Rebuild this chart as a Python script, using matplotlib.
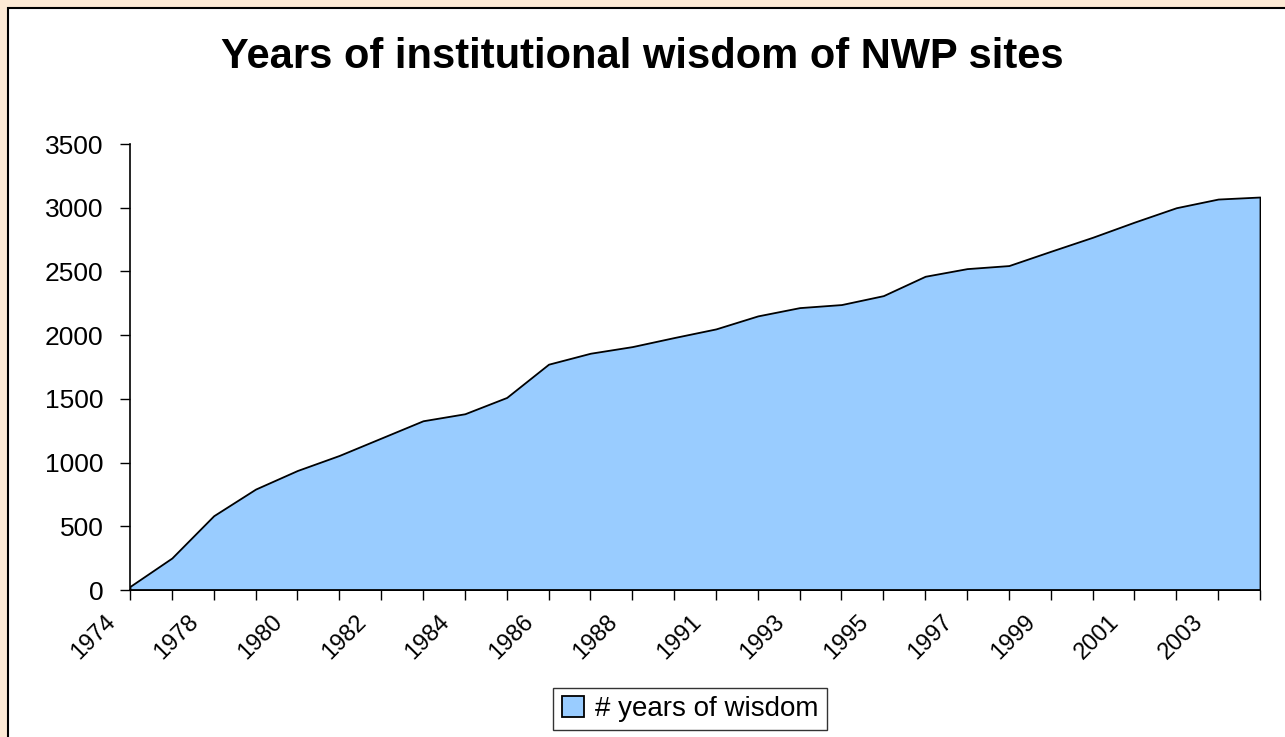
import matplotlib.pyplot as plt
from matplotlib.patches import Rectangle
from matplotlib.transforms import ScaledTranslation

plt.rcParams['font.family'] = ['Liberation Sans', 'DejaVu Sans']

years = ['1974', '1976', '1978', '1979', '1980', '1981', '1982', '1983', '1984', '1985',
         '1986', '1987', '1988', '1990', '1991', '1992', '1993', '1994', '1995', '1996',
         '1997', '1998', '1999', '2000', '2001', '2002', '2003', '2004']
wisdom = [28, 251, 583, 792, 938, 1056, 1192, 1328, 1383, 1511,
          1772, 1858, 1910, 1981, 2049, 2151, 2216, 2240, 2310, 2462,
          2522, 2546, 2658, 2768, 2887, 3000, 3068, 3084]
yticks = [0, 500, 1000, 1500, 2000, 2500, 3000, 3500]

W, H = 1285, 737
fig = plt.figure(figsize=(W / 100, H / 100), dpi=100)
fig.patch.set_facecolor('#FDEAD5')

# white chart area with black border, behind the axes
fig.patches.append(Rectangle((8 / W, -0.01), 1.0, 1.01 - 8 / H, transform=fig.transFigure,
                             facecolor='white', edgecolor='black', linewidth=1.5, zorder=-10))

ax = fig.add_axes([130 / W, 147 / H, 1130 / W, 446 / H])
ax.set_facecolor('none')

x = list(range(len(years)))
ax.fill_between(x, wisdom, 0, facecolor='#99CCFF', edgecolor='black', linewidth=1.3,
                label='# years of wisdom')

ax.set_xlim(0, len(years) - 1)
ax.set_ylim(0, 3500)
ax.set_yticks(yticks)
ax.set_yticklabels([str(v) for v in yticks], fontsize=19)
ax.set_xticks(x)
ax.set_xticklabels([])

# rotated category labels, every other one, sitting left of their tick like Excel does
lbl_tr = ax.get_xaxis_transform() + ScaledTranslation(-0.26, -0.21, fig.dpi_scale_trans)
for i, yr in enumerate(years):
    if i % 2 == 0:
        ax.text(i, 0, yr, transform=lbl_tr, rotation=45, ha='right', va='top',
                rotation_mode='anchor', fontsize=17, clip_on=False)

for s in ['top', 'right']:
    ax.spines[s].set_visible(False)
for s in ['left', 'bottom']:
    ax.spines[s].set_linewidth(1.2)
ax.tick_params(axis='both', direction='out', length=7, width=1.0, color='black')
ax.tick_params(axis='y', pad=12)

fig.text(0.5, 1 - 57 / H, 'Years of institutional wisdom of NWP sites',
         ha='center', va='center', fontsize=30, fontweight='bold')

leg = fig.legend(loc='center', bbox_to_anchor=(690 / W, 1 - 709 / H), fontsize=20,
                 frameon=True, fancybox=False, edgecolor='black', handlelength=0.8,
                 handleheight=0.8, handletextpad=0.4, borderpad=0.3)
leg.get_frame().set_linewidth(1.0)

fig.savefig('out.png', dpi=100, facecolor=fig.get_facecolor())
